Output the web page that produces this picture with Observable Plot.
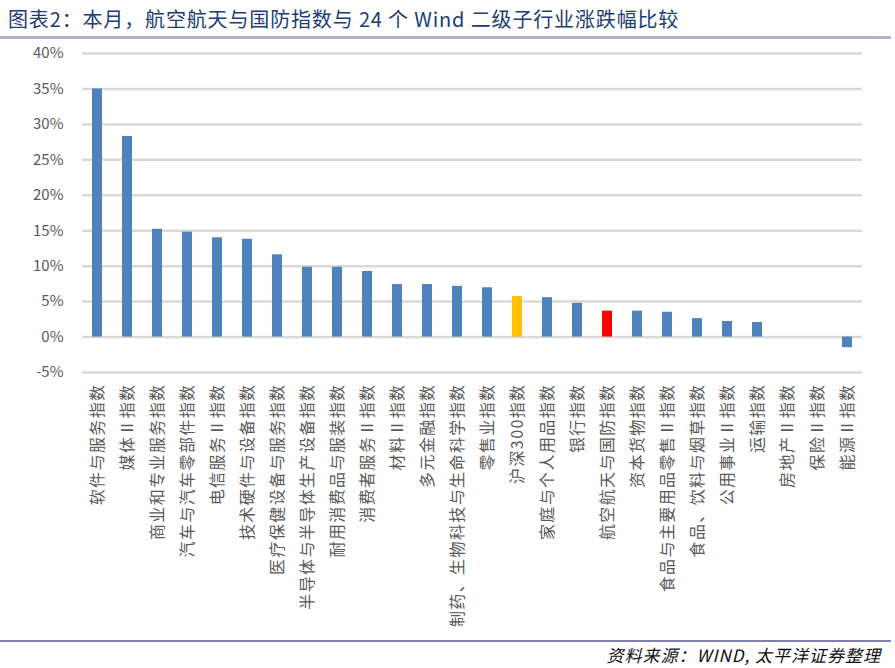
<!DOCTYPE html>
<html>
<head>
<meta charset="utf-8">
<script src="https://cdn.jsdelivr.net/npm/d3@7"></script>
<script src="https://cdn.jsdelivr.net/npm/@observablehq/plot@0.6"></script>
<style>
  html, body { margin: 0; padding: 0; background: #fff; }
  #wrap { position: relative; width: 895px; height: 668px; overflow: hidden; font-family: "Noto Sans CJK SC", "Noto Sans", sans-serif; }
  #title { position: absolute; left: 8px; top: 4px; font-size: 20px; color: #213C74; white-space: nowrap; letter-spacing: 0.85px; }
  #rule1 { position: absolute; left: 0; top: 36px; width: 891px; height: 3px; background: #B2B3CF; }
  #chart { position: absolute; left: 0; top: 40px; }
  #rule2 { position: absolute; left: 0; top: 640px; width: 891px; height: 2px; background: #7F80AE; }
  #caption { position: absolute; right: 14px; top: 642px; font-size: 17px; font-style: italic; color: #111; white-space: nowrap; letter-spacing: 1px; }
</style>
</head>
<body>
<div id="wrap">
  <div id="title">图表2：本月，航空航天与国防指数与 24 个 Wind 二级子行业涨跌幅比较</div>
  <div id="rule1"></div>
  <div id="chart"></div>
  <div id="rule2"></div>
  <div id="caption">资料来源：WIND, 太平洋证券整理</div>
</div>
<script>
const categories = [
  "软件与服务指数", "媒体Ⅱ指数", "商业和专业服务指数", "汽车与汽车零部件指数",
  "电信服务Ⅱ指数", "技术硬件与设备指数", "医疗保健设备与服务指数", "半导体与半导体生产设备指数",
  "耐用消费品与服装指数", "消费者服务Ⅱ指数", "材料Ⅱ指数", "多元金融指数",
  "制药、生物科技与生命科学指数", "零售业指数", "沪深300指数", "家庭与个人用品指数",
  "银行指数", "航空航天与国防指数", "资本货物指数", "食品与主要用品零售Ⅱ指数",
  "食品、饮料与烟草指数", "公用事业Ⅱ指数", "运输指数", "房地产Ⅱ指数",
  "保险Ⅱ指数", "能源Ⅱ指数"
];
const values = [
  35.0, 28.3, 15.2, 14.8,
  14.0, 13.8, 11.6, 9.85,
  9.85, 9.25, 7.4, 7.4,
  7.15, 6.95, 5.7, 5.55,
  4.75, 3.65, 3.65, 3.5,
  2.6, 2.2, 2.05, 0,
  0, -1.5
];
const yTicks = [-5, 0, 5, 10, 15, 20, 25, 30, 35, 40];
const highlightColors = { "沪深300指数": "#FFC000", "航空航天与国防指数": "#FF0000" };
const baseColor = "#4F81BD";

const data = categories.map((c, i) => ({ name: c, value: values[i], color: highlightColors[c] || baseColor }));

const chart = Plot.plot({
  width: 895,
  height: 600,
  marginTop: 13,
  marginBottom: 268,
  marginLeft: 82,
  marginRight: 33,
  style: { fontFamily: "'Noto Sans CJK SC', 'Noto Sans', sans-serif", background: "#fff" },
  x: { domain: categories, paddingInner: 0.67, paddingOuter: 0.33, label: null },
  y: { domain: [-5, 40], label: null },
  marks: [
    Plot.ruleY(yTicks, { stroke: "#D9D9D9", strokeWidth: 2.5 }),
    Plot.barY(data, { x: "name", y: "value", fill: "color" }),
    Plot.axisY(yTicks, {
      tickSize: 0, tickPadding: 19, tickFormat: d => d + "%",
      fontSize: 15, fill: "#595959", label: null
    }),
    Plot.axisX({
      tickSize: 0, tickPadding: 11, tickRotate: -90,
      fontSize: 16, fill: "#595959", label: null
    })
  ]
});
chart.querySelectorAll("g[aria-label^='x-axis'] text").forEach(t => t.setAttribute("letter-spacing", "1.4"));
document.getElementById("chart").appendChild(chart);
</script>
</body>
</html>
